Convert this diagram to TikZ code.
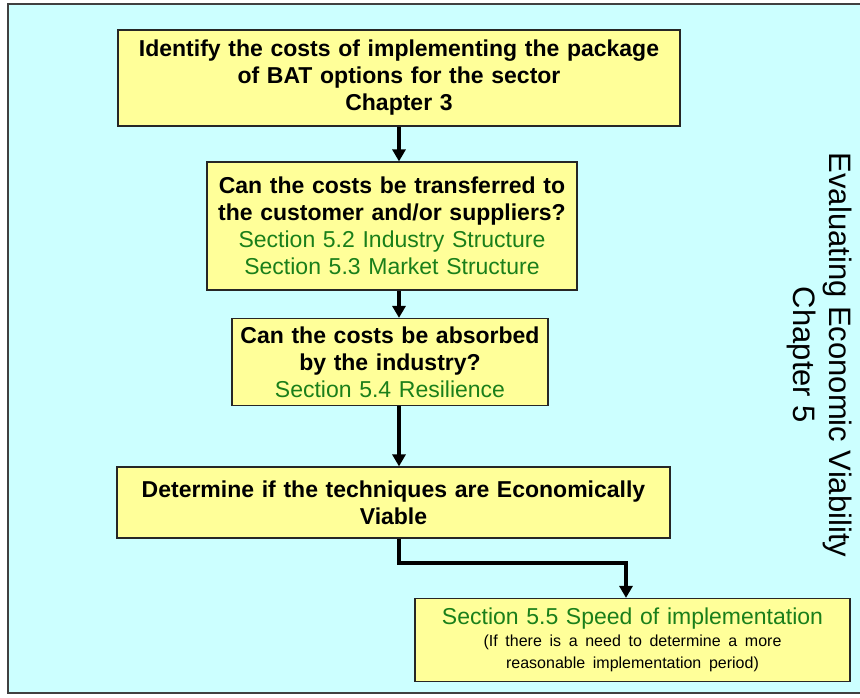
\documentclass[tikz,border=0pt]{standalone}
\usepackage{fontspec}
\setmainfont{Liberation Sans}
\usetikzlibrary{arrows.meta}
\definecolor{skyback}{HTML}{CCFFFF}
\definecolor{boxfill}{HTML}{FFFF99}
\definecolor{secgreen}{HTML}{1A7F1A}
\newcommand{\sectxt}[1]{{\mdseries\color{secgreen}#1}}

\begin{document}
\begin{tikzpicture}[x=1pt,y=-1pt,
    stepbox/.style={draw=black!85,line width=1.2pt,fill=boxfill,align=center,inner sep=0pt,
      font=\fontsize{23}{27}\selectfont\bfseries},
    flow/.style={line width=4.5pt,-{Triangle[length=12pt,width=13pt]}}]
    % Frame with light blue background
    \clip (0,0) rectangle (860,698);
    \fill[white] (0,0) rectangle (860,698);
    \draw[fill=skyback,draw=black!75,line width=2.5pt] (8,4) rectangle (880,693);

    % Steps of the evaluation
    \node[stepbox,minimum width=562,minimum height=96,text width=555] (costs) at (399,78)
        {Identify the costs of implementing the package\\ of BAT options for the sector\\ Chapter 3};
    \node[stepbox,minimum width=370,minimum height=128,text width=365] (transfer) at (392,226)
        {Can the costs be transferred to\\ the customer and/or suppliers?\\
         \sectxt{Section 5.2 Industry Structure}\\ \sectxt{Section 5.3 Market Structure}};
    \node[stepbox,minimum width=316,minimum height=87,text width=310] (absorb) at (390,362)
        {Can the costs be absorbed\\ by the industry?\\ \sectxt{Section 5.4 Resilience}};
    \node[stepbox,minimum width=553,minimum height=71,text width=545] (viable) at (393.5,502.5)
        {Determine if the techniques are Economically\\ Viable};
    \node[stepbox,minimum width=435,minimum height=83,text width=430] (speed) at (632.5,640)
        {{\fontsize{23}{25}\selectfont\sectxt{Section 5.5 Speed of implementation}\par}
         {\mdseries\fontsize{16}{22}\selectfont (If there is a need to determine a more\\
          reasonable implementation period)\par}};

    % Side title
    \node[rotate=-90,align=center,font=\fontsize{31}{36}\selectfont] (title) at (820,355)
        {Evaluating Economic Viability\\ Chapter 5};

    % Arrows between the steps
    \coordinate (drop) at (626,563);
    \draw[flow] (costs.south) -- (costs.south |- transfer.north);
    \draw[flow] (costs.south |- transfer.south) -- (costs.south |- absorb.north);
    \draw[flow] (costs.south |- absorb.south) -- (costs.south |- viable.north);
    \draw[flow] (costs.south |- viable.south) |- (drop) -- (drop |- speed.north);
\end{tikzpicture}
\end{document}
